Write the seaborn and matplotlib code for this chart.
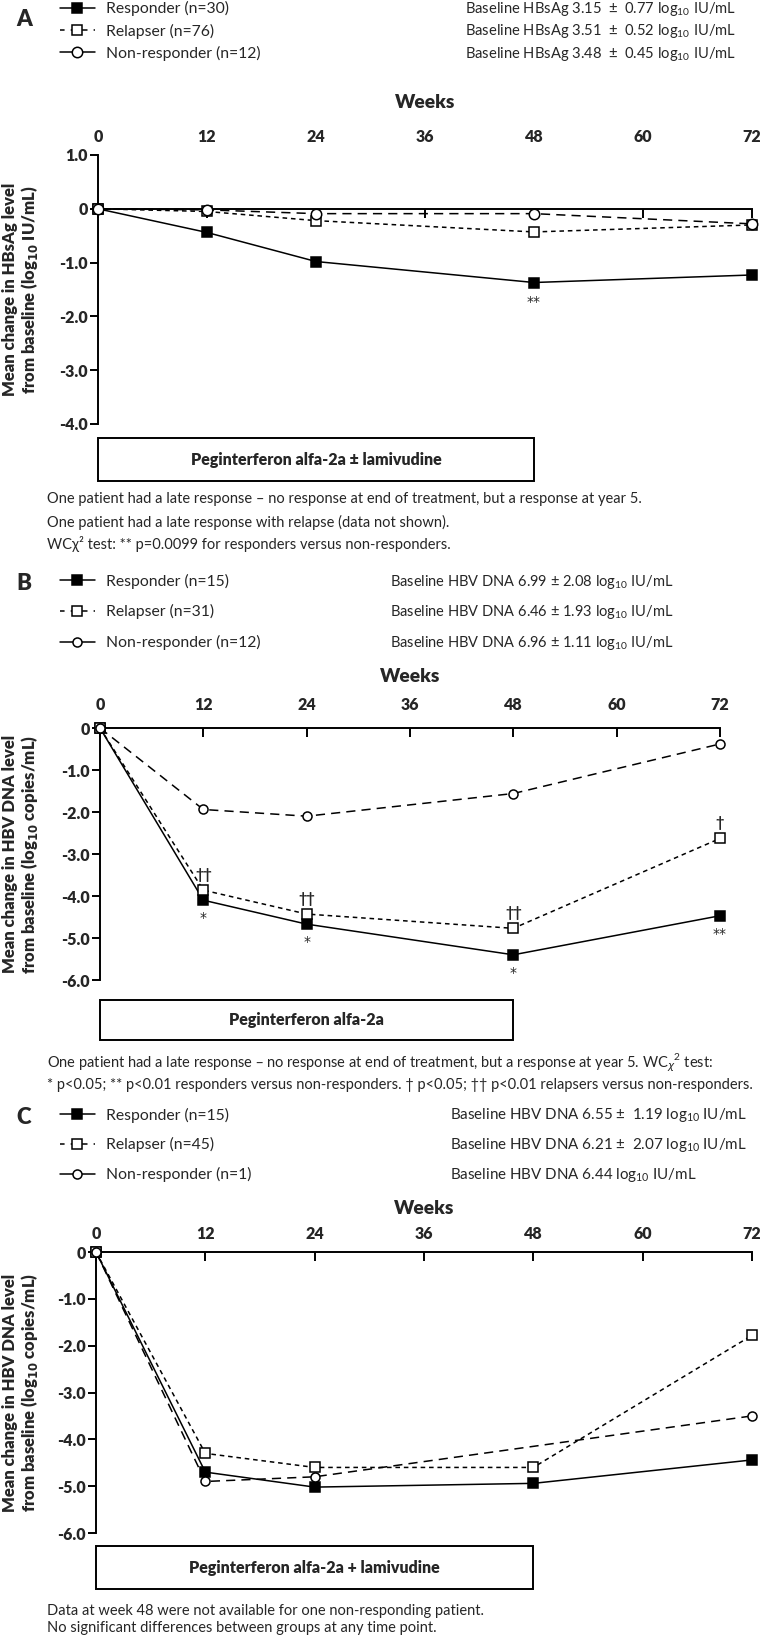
import numpy as np
import pandas as pd
import matplotlib
matplotlib.use("Agg")
import matplotlib.pyplot as plt
import matplotlib.transforms as mtransforms
from matplotlib.lines import Line2D
from matplotlib.patches import Rectangle
import seaborn as sns

weeks = [0, 12, 24, 48, 72]
groups = ["Responder", "Relapser", "Non-responder"]

# panel A - HBsAg
a_responder = [0, -0.44, -0.98, -1.37, -1.23]
a_relapser = [0, -0.05, -0.22, -0.43, -0.30]
a_nonresp = [0, -0.02, -0.09, -0.09, -0.28]
a_n = [30, 76, 12]
a_baseline = ["Baseline HBsAg 3.15  \u00b1  0.77 log$_\\mathregular{10}$ IU/mL",
              "Baseline HBsAg 3.51  \u00b1  0.52 log$_\\mathregular{10}$ IU/mL",
              "Baseline HBsAg 3.48  \u00b1  0.45 log$_\\mathregular{10}$ IU/mL"]
a_sig_resp = ["", "", "", "**", ""]
a_sig_rel = ["", "", "", "", ""]

# panel B - HBV DNA, peginterferon alone
b_responder = [0, -4.10, -4.67, -5.40, -4.47]
b_relapser = [0, -3.86, -4.43, -4.77, -2.63]
b_nonresp = [0, -1.94, -2.10, -1.56, -0.38]
b_n = [15, 31, 12]
b_baseline = ["Baseline HBV DNA 6.99 \u00b1 2.08 log$_\\mathregular{10}$ IU/mL",
              "Baseline HBV DNA 6.46 \u00b1 1.93 log$_\\mathregular{10}$ IU/mL",
              "Baseline HBV DNA 6.96 \u00b1 1.11 log$_\\mathregular{10}$ IU/mL"]
b_sig_resp = ["", "*", "*", "*", "**"]
b_sig_rel = ["", "\u2020\u2020", "\u2020\u2020", "\u2020\u2020", "\u2020"]

# panel C - HBV DNA, peginterferon + lamivudine
c_responder = [0, -4.70, -5.02, -4.94, -4.44]
c_relapser = [0, -4.30, -4.60, -4.60, -1.78]
c_nonresp = [0, -4.90, -4.80, np.nan, -3.50]
c_n = [15, 45, 1]
c_baseline = ["Baseline HBV DNA 6.55 \u00b1  1.19 log$_\\mathregular{10}$ IU/mL",
              "Baseline HBV DNA 6.21 \u00b1  2.07 log$_\\mathregular{10}$ IU/mL",
              "Baseline HBV DNA 6.44 log$_\\mathregular{10}$ IU/mL"]
c_sig_resp = ["", "", "", "", ""]
c_sig_rel = ["", "", "", "", ""]

week_ticks = [0, 12, 24, 36, 48, 60, 72]

sns.set_theme(style="white")
plt.rcParams["font.family"] = ["Lato", "DejaVu Sans"]
plt.rcParams["axes.linewidth"] = 1.4

W, H = 760, 1635
fig = plt.figure(figsize=(W / 100, H / 100), dpi=100)

HEAVY = "heavy"

styles = {
    "Responder": dict(marker="s", mfc="black", ls="-", z=3),
    "Relapser": dict(marker="s", mfc="white", ls=(0, (3, 2.5)), z=4),
    "Non-responder": dict(marker="o", mfc="white", ls=(0, (6, 4)), z=5),
}
legend_ls = {"Responder": "-", "Relapser": (0.5, (3.5, 4)), "Non-responder": "-"}


def add_axes_px(left, right, top, bottom):
    return fig.add_axes([left / W, 1 - bottom / H, (right - left) / W, (bottom - top) / H])


def draw_panel(letter, letter_y, box, resp, rel, non, n, baseline, base_size, sig_resp,
               sig_rel, resp_off, ylim, yticks, msize, xpad, legend_top, rows, spacing,
               base_x, box_y, box_text, notes, note_y, ylabel, weeks_y):
    left, right, top, bottom = box
    ax = add_axes_px(left, right, top, bottom)

    df = pd.DataFrame({
        "week": weeks * 3,
        "change": resp + rel + non,
        "group": [g for g in groups for _ in weeks],
    }).dropna()

    for g in groups:
        st = styles[g]
        sns.lineplot(data=df[df["group"] == g], x="week", y="change", ax=ax,
                     estimator=None, errorbar=None, color="black", linewidth=1.1,
                     linestyle=st["ls"], marker=st["marker"], markersize=msize,
                     markerfacecolor=st["mfc"], markeredgecolor="black",
                     markeredgewidth=1.1, clip_on=False, zorder=st["z"], legend=False)

    # significance marks
    for w, v, s in zip(weeks, resp, sig_resp):
        if s:
            ax.annotate(s, (w, v), xytext=(0, resp_off), textcoords="offset points",
                        ha="center", va="center", fontsize=10, family="DejaVu Sans")
    for w, v, s in zip(weeks, rel, sig_rel):
        if s:
            ax.annotate(s, (w, v), xytext=(0, 11), textcoords="offset points",
                        ha="center", va="center", fontsize=10.5, fontweight="bold")

    ax.set_xlim(0, 72)
    ax.set_ylim(*ylim)
    ax.spines["top"].set_visible(False)
    ax.spines["right"].set_visible(False)
    ax.spines["bottom"].set_position(("data", 0))
    ax.spines["bottom"].set_bounds(0, 72)
    ax.spines["left"].set_bounds(*ylim)
    for sp in ax.spines.values():
        sp.set_color("black")
        sp.set_linewidth(1.4)

    ax.set_xticks(week_ticks)
    ax.set_xticklabels([str(w) for w in week_ticks], fontweight=HEAVY, fontsize=11.5)
    ax.set_yticks(yticks)
    ax.set_yticklabels(["0" if v == 0 else f"{v:.1f}" for v in yticks],
                       fontweight=HEAVY, fontsize=11.5)
    ax.tick_params(axis="x", bottom=True, top=False, labelbottom=False, labeltop=True,
                   direction="out", length=6.5, width=1.4, pad=xpad, color="black")
    ax.tick_params(axis="y", left=True, direction="out", length=5.5, width=1.4,
                   pad=2, color="black")
    ax.set_xlabel("")
    ax.set_ylabel(ylabel, fontsize=12, fontweight=HEAVY, linespacing=1.05)
    ax.yaxis.set_label_coords((40 - left) / (right - left), 0.5)

    fig.text((left + right) / 2 / W, 1 - weeks_y / H, "Weeks", ha="center", va="center",
             fontsize=13.8, fontweight=HEAVY)

    # legend and baselines
    handles = [Line2D([], [], color="black", lw=1.1, ls=legend_ls[g],
                      marker=styles[g]["marker"], ms=msize, mfc=styles[g]["mfc"],
                      mec="black", mew=1.1) for g in groups]
    labels = [f"{g} (n={k})" for g, k in zip(groups, n)]
    ax.legend(handles, labels, loc="upper left", bbox_to_anchor=(60 / W, 1 - legend_top / H),
              bbox_transform=fig.transFigure, frameon=False, handlelength=2.2,
              handletextpad=0.7, labelspacing=spacing, borderpad=0, borderaxespad=0,
              fontsize=11.3)
    for y, t in zip(rows, baseline):
        fig.text(base_x / W, 1 - y / H, t, ha="left", va="center", fontsize=base_size)
    fig.text(16 / W, 1 - letter_y / H, letter, ha="left", va="center",
             fontsize=16, fontweight=HEAVY)

    # treatment bar
    tr = mtransforms.blended_transform_factory(ax.transData, fig.transFigure)
    y0, y1 = box_y
    ax.add_patch(Rectangle((0, 1 - y1 / H), 48, (y1 - y0) / H, transform=tr, fill=False,
                           edgecolor="black", lw=1.4, clip_on=False))
    ax.text(24, 1 - (y0 + y1) / 2 / H, box_text, transform=tr, ha="center", va="center",
            fontsize=11.5, fontweight=HEAVY)

    for y, t in zip(note_y, notes):
        fig.text(47 / W, 1 - y / H, t, ha="left", va="center", fontsize=10.5)
    return ax


draw_panel("A", 19, (98, 752, 155, 424), a_responder, a_relapser, a_nonresp, a_n, a_baseline,
           10.6, a_sig_resp, a_sig_rel, -14, (-4, 1), [1.0, 0, -1.0, -2.0, -3.0, -4.0], 7.5,
           0.5, 1, [9, 31, 54], 0.47, 465, (438, 481),
           "Peginterferon alfa-2a \u00b1 lamivudine",
           ["One patient had a late response \u2013 no response at end of treatment, but a response at year 5.",
            "One patient had a late response with relapse (data not shown).",
            "WC\u03c7\u00b2 test: ** p=0.0099 for responders versus non-responders."],
           [499, 522, 544],
           "Mean change in HBsAg level\nfrom baseline (log$_\\mathbf{10}$ IU/mL)", 102)

draw_panel("B", 584, (100, 720, 728, 980), b_responder, b_relapser, b_nonresp, b_n, b_baseline,
           10.5, b_sig_resp, b_sig_rel, -13, (-6, 0), [0, -1.0, -2.0, -3.0, -4.0, -5.0, -6.0],
           6.5, 4.5, 573.5, [582, 612, 643], 1.0, 390, (1000, 1040),
           "Peginterferon alfa-2a",
           ["One patient had a late response \u2013 no response at end of treatment, but a response at year 5. WC$_\\chi$$^\\mathregular{2}$ test:",
            "* p<0.05; ** p<0.01 responders versus non-responders. \u2020 p<0.05; \u2020\u2020 p<0.01 relapsers versus non-responders."],
           [1063, 1085],
           "Mean change in HBV DNA level\nfrom baseline (log$_\\mathbf{10}$ copies/mL)", 677)

draw_panel("C", 1117, (96, 752, 1252, 1533), c_responder, c_relapser, c_nonresp, c_n, c_baseline,
           10.9, c_sig_resp, c_sig_rel, -13, (-6, 0), [0, -1.0, -2.0, -3.0, -4.0, -5.0, -6.0],
           6.5, 0.5, 1107.5, [1115, 1145, 1175], 0.94, 450, (1546, 1589),
           "Peginterferon alfa-2a + lamivudine",
           ["Data at week 48 were not available for one non-responding patient.",
            "No significant differences between groups at any time point."],
           [1611, 1628],
           "Mean change in HBV DNA level\nfrom baseline (log$_\\mathbf{10}$ copies/mL)", 1208)

fig.savefig("out.png", dpi=100, facecolor="white")
